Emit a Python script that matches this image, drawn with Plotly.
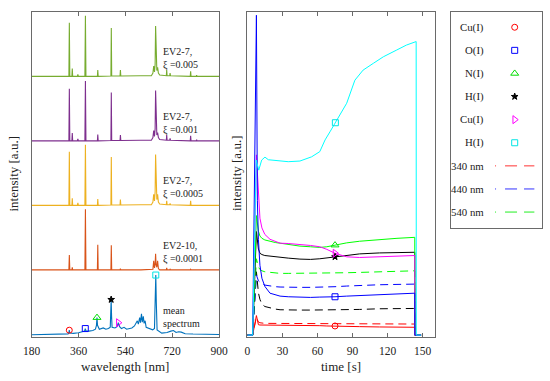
import plotly.graph_objects as go

# ---------------- data: left panel (spectra) ----------------
WL = [180, 300, 323, 324.7, 326.5, 334.5, 336, 337.5, 355.5, 357.5, 359.5,
      384.5, 386.5, 388.5, 410, 432.5, 434, 435.5, 484.5, 486, 487.5,
      519.5, 521, 522.5, 600, 640, 646, 649, 652, 654.5, 656.3, 658, 661,
      664, 667, 672, 697.5, 699, 700.5, 710.5, 712, 713.5, 789.5, 791,
      792.5, 812.5, 814, 815.5, 900]

SPEC_EV27_0005 = [0.01, 0.01, 0.01, 0.84, 0.01, 0.01, 0.13, 0.01, 0.01, 0.04, 0.01,
                  0.01, 0.95, 0.01, 0.01, 0.01, 0.11, 0.01, 0.015, 0.76, 0.015,
                  0.015, 0.11, 0.015, 0.02, 0.02, 0.06, 0.17, 0.08, 0.20, 0.79, 0.20, 0.10,
                  0.15, 0.06, 0.03, 0.02, 0.11, 0.02, 0.02, 0.06, 0.02, 0.01, 0.09,
                  0.01, 0.01, 0.03, 0.01, 0.01]
SPEC_EV27_0001 = [0.01, 0.01, 0.01, 0.82, 0.01, 0.01, 0.13, 0.01, 0.01, 0.04, 0.01,
                  0.01, 0.94, 0.01, 0.01, 0.01, 0.11, 0.01, 0.015, 0.76, 0.015,
                  0.015, 0.10, 0.015, 0.02, 0.02, 0.06, 0.17, 0.08, 0.20, 0.79, 0.20, 0.10,
                  0.14, 0.06, 0.03, 0.02, 0.10, 0.02, 0.02, 0.05, 0.02, 0.01, 0.09,
                  0.01, 0.01, 0.03, 0.01, 0.01]
SPEC_EV27_00005 = [0.01, 0.01, 0.01, 0.84, 0.01, 0.01, 0.12, 0.01, 0.01, 0.05, 0.01,
                   0.01, 0.95, 0.01, 0.01, 0.01, 0.11, 0.01, 0.015, 0.76, 0.015,
                   0.015, 0.10, 0.015, 0.02, 0.02, 0.06, 0.18, 0.08, 0.22, 0.80, 0.22, 0.10,
                   0.18, 0.06, 0.03, 0.02, 0.08, 0.02, 0.02, 0.04, 0.02, 0.01, 0.08,
                   0.01, 0.01, 0.02, 0.01, 0.01]
SPEC_EV210_00001 = [0.01, 0.01, 0.01, 0.24, 0.01, 0.01, 0.05, 0.01, 0.01, 0.01, 0.01,
                    0.01, 0.95, 0.01, 0.01, 0.01, 0.40, 0.01, 0.01, 0.39, 0.01,
                    0.01, 0.03, 0.01, 0.01, 0.01, 0.02, 0.15, 0.04, 0.10, 0.26, 0.10, 0.05,
                    0.15, 0.03, 0.01, 0.01, 0.04, 0.01, 0.01, 0.02, 0.01, 0.01, 0.02,
                    0.01, 0.01, 0.01, 0.01, 0.01]

MEAN_WL = [180, 250, 300, 320, 322.5, 324.5, 326.5, 340, 360, 375, 383, 386, 389,
           400, 415, 425, 429, 431, 433, 440, 455, 465, 475, 482, 484, 485.5, 487,
           489, 500, 508, 513, 518, 525, 535, 545, 555, 565, 575, 582, 586, 590,
           595, 598, 602, 605, 609, 612, 616, 620, 630, 645, 652, 655, 657, 659,
           662, 680, 700, 715, 725, 735, 745, 755, 770, 800, 850, 900]
MEAN_INT = [0.005, 0.008, 0.012, 0.018, 0.03, 0.075, 0.03, 0.025, 0.035, 0.045, 0.06, 0.10, 0.06,
            0.06, 0.07, 0.09, 0.15, 0.27, 0.15, 0.09, 0.11, 0.09, 0.10, 0.12, 0.30, 0.55, 0.30,
            0.12, 0.11, 0.13, 0.19, 0.13, 0.10, 0.12, 0.09, 0.10, 0.11, 0.14, 0.18, 0.22, 0.17,
            0.27, 0.19, 0.33, 0.20, 0.29, 0.18, 0.22, 0.12, 0.10, 0.08, 0.10, 0.50, 0.93, 0.50,
            0.08, 0.03, 0.04, 0.06, 0.07, 0.04, 0.05, 0.045, 0.02, 0.015, 0.01, 0.008]
PEAK_WL = [324.5, 386, 431, 485.5, 513, 657]

SPECTRA = [
    ("mean", MEAN_WL, MEAN_INT, 0, "#0072BD", "mean<br>spectrum"),
    ("r", WL, SPEC_EV210_00001, 1, "#D95319", "EV2-10,<br>ξ =0.0001"),
    ("o", WL, SPEC_EV27_00005, 2, "#EDB120", "EV2-7,<br>ξ =0.0005"),
    ("p", WL, SPEC_EV27_0001, 3, "#7E2F8E", "EV2-7,<br>ξ =0.001"),
    ("g", WL, SPEC_EV27_0005, 4, "#77AC30", "EV2-7,<br>ξ =0.005"),
]

# ---------------- data: right panel (time traces) ----------------
T = [0, 4.6, 7.8, 8.6, 9.5, 10.8, 12.5, 15, 19.4, 24, 28, 35, 45, 54, 62, 68,
     75, 85, 96, 113, 128, 143.2, 143.3, 148.6]
CU_I = [0.005, 0.005, 0.065, 0.045, 0.037, 0.036, 0.036, 0.036, 0.036, 0.036, 0.036, 0.036,
        0.035, 0.035, 0.034, 0.033, 0.033, 0.032, 0.031, 0.030, 0.030, 0.029, 0.005, 0.005]
O_I = [0.005, 0.005, 0.99, 0.42, 0.30, 0.22, 0.18, 0.155, 0.134, 0.128, 0.125, 0.123,
       0.121, 0.121, 0.122, 0.122, 0.123, 0.125, 0.127, 0.130, 0.132, 0.134, 0.005, 0.005]
N_I = [0.005, 0.005, 0.373, 0.34, 0.325, 0.31, 0.303, 0.298, 0.293, 0.29, 0.288, 0.284,
       0.279, 0.277, 0.275, 0.277, 0.282, 0.289, 0.294, 0.30, 0.303, 0.306, 0.005, 0.005]
H_I = [0.005, 0.005, 0.324, 0.29, 0.27, 0.257, 0.253, 0.25, 0.248, 0.247, 0.246, 0.242,
       0.239, 0.238, 0.24, 0.243, 0.246, 0.25, 0.255, 0.258, 0.259, 0.26, 0.005, 0.005]
CU_I_B = [0.005, 0.005, 0.56, 0.51, 0.44, 0.365, 0.335, 0.315, 0.30, 0.293, 0.288, 0.287,
          0.285, 0.281, 0.277, 0.269, 0.257, 0.246, 0.244, 0.246, 0.247, 0.25, 0.005, 0.005]
NM340 = [0.005, 0.005, 0.06, 0.05, 0.045, 0.043, 0.042, 0.041, 0.041, 0.041, 0.041, 0.041,
         0.041, 0.041, 0.040, 0.040, 0.040, 0.040, 0.040, 0.040, 0.039, 0.039, 0.005, 0.005]
NM440 = [0.005, 0.005, 0.19, 0.178, 0.172, 0.168, 0.163, 0.159, 0.156, 0.154, 0.153, 0.152,
         0.152, 0.152, 0.152, 0.153, 0.154, 0.156, 0.158, 0.160, 0.161, 0.162, 0.005, 0.005]
NM540 = [0.005, 0.005, 0.24, 0.226, 0.215, 0.207, 0.203, 0.20, 0.198, 0.196, 0.195, 0.195,
         0.195, 0.195, 0.195, 0.195, 0.196, 0.197, 0.198, 0.200, 0.201, 0.203, 0.005, 0.005]
DASH_BLACK = [0.005, 0.005, 0.20, 0.16, 0.135, 0.115, 0.10, 0.093, 0.088, 0.085, 0.083, 0.082,
              0.082, 0.082, 0.082, 0.082, 0.083, 0.083, 0.084, 0.086, 0.087, 0.087, 0.005, 0.005]
TC = [0, 4.6, 7.6, 9.8, 12.3, 15.1, 18, 28, 35, 45, 55, 62, 66.5, 70.7, 75.3, 79,
      85, 92, 99, 107.8, 116.3, 127.8, 136, 144.4, 144.5, 148.6]
H_I_CYAN = [0.005, 0.005, 0.544, 0.513, 0.544, 0.553, 0.545, 0.541, 0.539, 0.541, 0.554,
            0.57, 0.606, 0.631, 0.659, 0.683, 0.719, 0.79, 0.821, 0.842, 0.862, 0.883,
            0.898, 0.909, 0.005, 0.005]
MARK_T = 75

X_TICKS_L = [180, 360, 540, 720, 900]
X_TICKS_R = [0, 30, 60, 90, 120, 150]
LEGEND_LABELS = ["Cu(I)", "O(I)", "N(I)", "H(I)", "Cu(I)", "H(I)", "340 nm", "440 nm", "540 nm"]

# ---------------- figure ----------------
FONT = "Liberation Serif, Times New Roman, Times, serif"
AX = "#6a6a6a"
fig = go.Figure()

for key, wl, vals, off, col, lab in SPECTRA:
    fig.add_trace(go.Scatter(x=wl, y=[v + off for v in vals], mode="lines",
                             line=dict(color=col, width=1.1), xaxis="x", yaxis="y",
                             showlegend=False, hoverinfo="skip"))

marker_styles = [
    dict(symbol="circle-open", color="#FF0000", size=6),
    dict(symbol="square-open", color="#0000FF", size=6),
    dict(symbol="triangle-up-open", color="#00DD00", size=7),
    dict(symbol="star", color="#000000", size=5),
    dict(symbol="triangle-right-open", color="#FF00FF", size=7),
    dict(symbol="square-open", color="#00E5E5", size=6),
]


def mk_marker(ms):
    return dict(symbol=ms["symbol"], color=ms["color"], size=ms["size"],
                line=dict(width=1, color=ms["color"]))


for w, ms in zip(PEAK_WL, marker_styles):
    i = MEAN_WL.index(w)
    fig.add_trace(go.Scatter(x=[MEAN_WL[i]], y=[MEAN_INT[i]], mode="markers", marker=mk_marker(ms),
                             xaxis="x", yaxis="y", showlegend=False, hoverinfo="skip"))

DASH = "8px,5px"
right_lines = [
    (T, NM340, "#FF0000", DASH),
    (T, DASH_BLACK, "#000000", DASH),
    (T, NM440, "#0000FF", DASH),
    (T, NM540, "#00FF00", DASH),
    (T, CU_I, "#FF0000", "solid"),
    (T, H_I, "#000000", "solid"),
    (T, N_I, "#00FF00", "solid"),
    (T, CU_I_B, "#FF00FF", "solid"),
    (T, O_I, "#0000FF", "solid"),
    (TC, H_I_CYAN, "#00FFFF", "solid"),
]
for tt, vv, col, dash in right_lines:
    fig.add_trace(go.Scatter(x=tt, y=vv, mode="lines", line=dict(color=col, width=1, dash=dash),
                             xaxis="x2", yaxis="y2", showlegend=False, hoverinfo="skip"))

mk = T.index(MARK_T)
mkc = TC.index(75.3)
right_marks = [(T[mk], CU_I[mk], 0), (T[mk], O_I[mk], 1), (T[mk], N_I[mk], 2),
               (T[mk], H_I[mk], 3), (T[mk], CU_I_B[mk], 4), (TC[mkc], H_I_CYAN[mkc], 5)]
for tx, val, si in right_marks:
    fig.add_trace(go.Scatter(x=[tx], y=[val], mode="markers", marker=mk_marker(marker_styles[si]),
                             xaxis="x2", yaxis="y2", showlegend=False, hoverinfo="skip"))

# legend panel (x3/y3)
for i, ms in enumerate(marker_styles):
    fig.add_trace(go.Scatter(x=[0.70], y=[i], mode="markers", marker=mk_marker(ms),
                             xaxis="x3", yaxis="y3", showlegend=False, hoverinfo="skip"))
for i, col in zip([6, 7, 8], ["#FF3333", "#3333FF", "#22EE22"]):
    fig.add_trace(go.Scatter(x=[0.484, 0.916], y=[i, i], mode="lines",
                             line=dict(color=col, width=1, dash="1px,9px,12px,7px,12px,100px"),
                             xaxis="x3", yaxis="y3", showlegend=False, hoverinfo="skip"))

annotations = []
for key, wl, vals, off, col, lab in SPECTRA:
    annotations.append(dict(x=677, y=off + 0.28, xref="x", yref="y", text=lab, showarrow=False,
                            xanchor="left", yanchor="middle", align="left",
                            font=dict(family=FONT, size=10, color="#222")))
for i, lab in enumerate(LEGEND_LABELS):
    annotations.append(dict(x=0.385, y=i, xref="x3", yref="y3", text=lab, showarrow=False,
                            xanchor="right", yanchor="middle",
                            font=dict(family=FONT, size=10.8, color="#222")))
annotations += [
    dict(x=125 / 550, y=1 - 366.5 / 381, xref="paper", yref="paper", text="wavelength [nm]",
         showarrow=False, xanchor="center", yanchor="middle", font=dict(family=FONT, size=13, color="#222")),
    dict(x=341 / 550, y=1 - 366.5 / 381, xref="paper", yref="paper", text="time [s]",
         showarrow=False, xanchor="center", yanchor="middle", font=dict(family=FONT, size=13, color="#222")),
    dict(x=12.5 / 550, y=1 - 174 / 381, xref="paper", yref="paper", text="intensity [a.u.]",
         textangle=-90, showarrow=False, xanchor="center", yanchor="middle",
         font=dict(family=FONT, size=13, color="#222")),
    dict(x=236 / 550, y=1 - 174 / 381, xref="paper", yref="paper", text="intensity [a.u.]",
         textangle=-90, showarrow=False, xanchor="center", yanchor="middle",
         font=dict(family=FONT, size=13, color="#222")),
]

YD = [1 - 336.7 / 381, 1 - 12 / 381]
common_x = dict(ticks="inside", ticklen=4, tickcolor=AX, showline=True, linecolor=AX, linewidth=1,
                mirror="ticks", showgrid=False, zeroline=False,
                tickfont=dict(family=FONT, size=11.5, color="#222"), ticklabelstandoff=3)
common_y = dict(showticklabels=False, ticks="", showline=True, linecolor=AX, linewidth=1,
                mirror=True, showgrid=False, zeroline=False)
box3 = dict(showticklabels=False, ticks="", showline=True, linecolor=AX, mirror=True,
            showgrid=False, zeroline=False)

fig.update_layout(
    width=550, height=381, autosize=False,
    margin=dict(l=0, r=0, t=0, b=0, autoexpand=False),
    paper_bgcolor="white", plot_bgcolor="white",
    showlegend=False,
    xaxis=dict(domain=[31.7 / 550, 219 / 550], range=[180, 900], tickvals=X_TICKS_L,
               anchor="y", **common_x),
    yaxis=dict(domain=YD, range=[-0.026, 5.008], anchor="x", **common_y),
    xaxis2=dict(domain=[247.3 / 550, 435 / 550], range=[0, 160.5], tickvals=X_TICKS_R,
                anchor="y2", **common_x),
    yaxis2=dict(domain=YD, range=[0, 1], anchor="x2", **common_y),
    xaxis3=dict(domain=[451 / 550, 542 / 550], range=[0, 1], anchor="y3", **box3),
    yaxis3=dict(domain=[1 - 228 / 381, 1 - 12 / 381], range=[8.69, -0.66], anchor="x3", **box3),
    annotations=annotations,
)

fig.write_html("out.html", config={"displayModeBar": False},
               post_script="document.body.style.margin='0px';")
